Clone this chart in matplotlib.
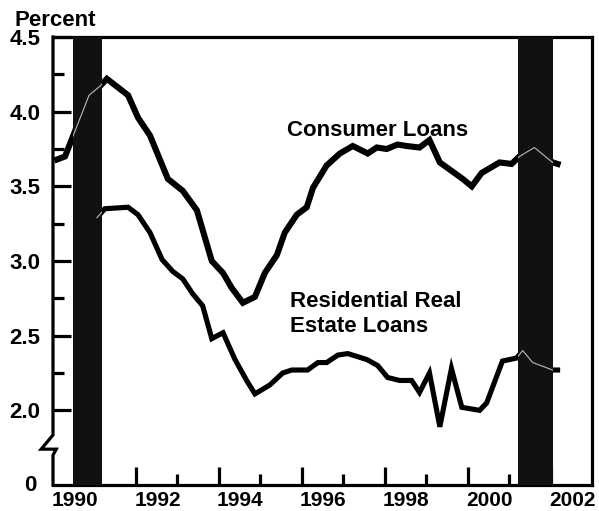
# loan delinquency style chart: consumer vs residential real estate loans
import matplotlib.pyplot as plt
from matplotlib.patches import Rectangle

plt.rcParams['font.family'] = ['Liberation Sans', 'DejaVu Sans']
plt.rcParams['font.weight'] = 'bold'

# data (decimal year, percent)
consumer_x = [1990.10, 1990.29, 1990.87, 1991.13, 1991.30, 1991.81, 1992.05, 1992.34,
              1992.77, 1993.13, 1993.47, 1993.83, 1994.10, 1994.31, 1994.58, 1994.87,
              1995.11, 1995.40, 1995.59, 1995.88, 1996.12, 1996.27, 1996.60, 1996.92,
              1997.23, 1997.59, 1997.81, 1998.05, 1998.31, 1998.53, 1998.84, 1999.08,
              1999.33, 1999.88, 2000.10, 2000.34, 2000.77, 2001.06, 2001.25, 2001.61,
              2002.05, 2002.17]
consumer_y = [3.68, 3.70, 4.11, 4.17, 4.22, 4.11, 3.96, 3.84,
              3.55, 3.47, 3.34, 3.00, 2.92, 2.82, 2.72, 2.76,
              2.92, 3.04, 3.19, 3.31, 3.36, 3.49, 3.64, 3.72,
              3.77, 3.72, 3.76, 3.75, 3.78, 3.77, 3.76, 3.81,
              3.66, 3.55, 3.50, 3.59, 3.66, 3.65, 3.70, 3.76,
              3.66, 3.65]

resid_x = [1991.06, 1991.25, 1991.81, 1992.05, 1992.34, 1992.63, 1992.89, 1993.13,
           1993.37, 1993.61, 1993.83, 1994.10, 1994.39, 1994.67, 1994.87, 1995.23,
           1995.54, 1995.76, 1996.14, 1996.39, 1996.60, 1996.87, 1997.11, 1997.57,
           1997.83, 1998.07, 1998.36, 1998.65, 1998.84, 1999.08, 1999.33, 1999.61,
           1999.86, 2000.29, 2000.46, 2000.84, 2001.18, 2001.33, 2001.57, 2002.05,
           2002.17]
resid_y = [3.29, 3.35, 3.36, 3.31, 3.19, 3.01, 2.93, 2.88,
           2.78, 2.70, 2.48, 2.52, 2.34, 2.20, 2.11, 2.17,
           2.25, 2.27, 2.27, 2.32, 2.32, 2.37, 2.38, 2.34,
           2.30, 2.22, 2.20, 2.20, 2.12, 2.25, 1.89, 2.28,
           2.02, 2.00, 2.05, 2.33, 2.35, 2.40, 2.32, 2.27,
           2.27]

# recession periods
rec_start = [1990.48, 2001.21]
rec_end = [1991.17, 2002.05]

y_major = [2.0, 2.5, 3.0, 3.5, 4.0, 4.5]
y_minor = [2.25, 2.75, 3.25, 3.75, 4.25]
year_labels = [1990, 1992, 1994, 1996, 1998, 2000, 2002]

fig = plt.figure(figsize=(5.99, 5.11), dpi=100)
ax = fig.add_axes([53 / 599, 1 - 485 / 511, 539 / 599, 448 / 511])
ax.set_xlim(1990, 2003)
ax.set_ylim(1.5, 4.5)

# the lines
ax.plot(consumer_x, consumer_y, color='black', lw=4.4, solid_joinstyle='miter', zorder=2)
ax.plot(resid_x, resid_y, color='black', lw=3.7, solid_joinstyle='miter', zorder=2)

# recession bars with a faint trace of the lines across them
for s, e in zip(rec_start, rec_end):
    r = Rectangle((s, 1.5), e - s, 3.0, facecolor='#111111', edgecolor='none', zorder=3)
    ax.add_patch(r)
    for xs, ys in [(consumer_x, consumer_y), (resid_x, resid_y)]:
        ln, = ax.plot(xs, ys, color='#bbbbbb', lw=0.8, zorder=4)
        ln.set_clip_path(r)

# spines
for side in ['top', 'right', 'bottom']:
    ax.spines[side].set_linewidth(2.3)
ax.spines['left'].set_visible(False)

# left axis with the break
ax.plot([0, 0, -0.022, 0.006, 0, 0], [4.5, 1.835, 1.74, 1.74, 1.70, 1.5],
        transform=ax.get_yaxis_transform(), color='black', lw=2.3,
        clip_on=False, solid_joinstyle='miter', zorder=5)

# y ticks
ax.set_yticks(y_major)
ax.set_yticks(y_minor, minor=True)
ax.set_yticklabels(['%.1f' % v for v in y_major])
ax.tick_params(axis='y', which='major', direction='in', length=13, width=2.3,
               labelsize=16, pad=9)
ax.tick_params(axis='y', which='minor', direction='in', length=8, width=2.3)
ax.text(-0.03, 1.5, '0', transform=ax.get_yaxis_transform(), ha='right',
        va='center', fontsize=16, fontweight='bold')

# x ticks: tall on even years, short on odd years, labels at mid year
ax.set_xticks([1992, 1994, 1996, 1998, 2000, 2002])
ax.set_xticks([1991, 1993, 1995, 1997, 1999, 2001], minor=True)
ax.set_xticklabels([])
ax.tick_params(axis='x', which='major', direction='in', length=13, width=2.3)
ax.tick_params(axis='x', which='minor', direction='in', length=8, width=2.3)
for yr in year_labels:
    ax.text(yr + 0.52, -0.013, str(yr), transform=ax.get_xaxis_transform(),
            ha='center', va='top', fontsize=15, fontweight='bold')

# annotations
fig.text(14 / 599, 1 - 26 / 511, 'Percent', fontsize=16, fontweight='bold',
         va='baseline')
ax.text(1995.64, 3.84, 'Consumer Loans', fontsize=16, fontweight='bold',
        va='baseline')
ax.text(1995.71, 2.80, 'Residential Real\nEstate Loans', fontsize=16,
        fontweight='bold', va='top', linespacing=1.27)

fig.savefig('out.png', dpi=100)
